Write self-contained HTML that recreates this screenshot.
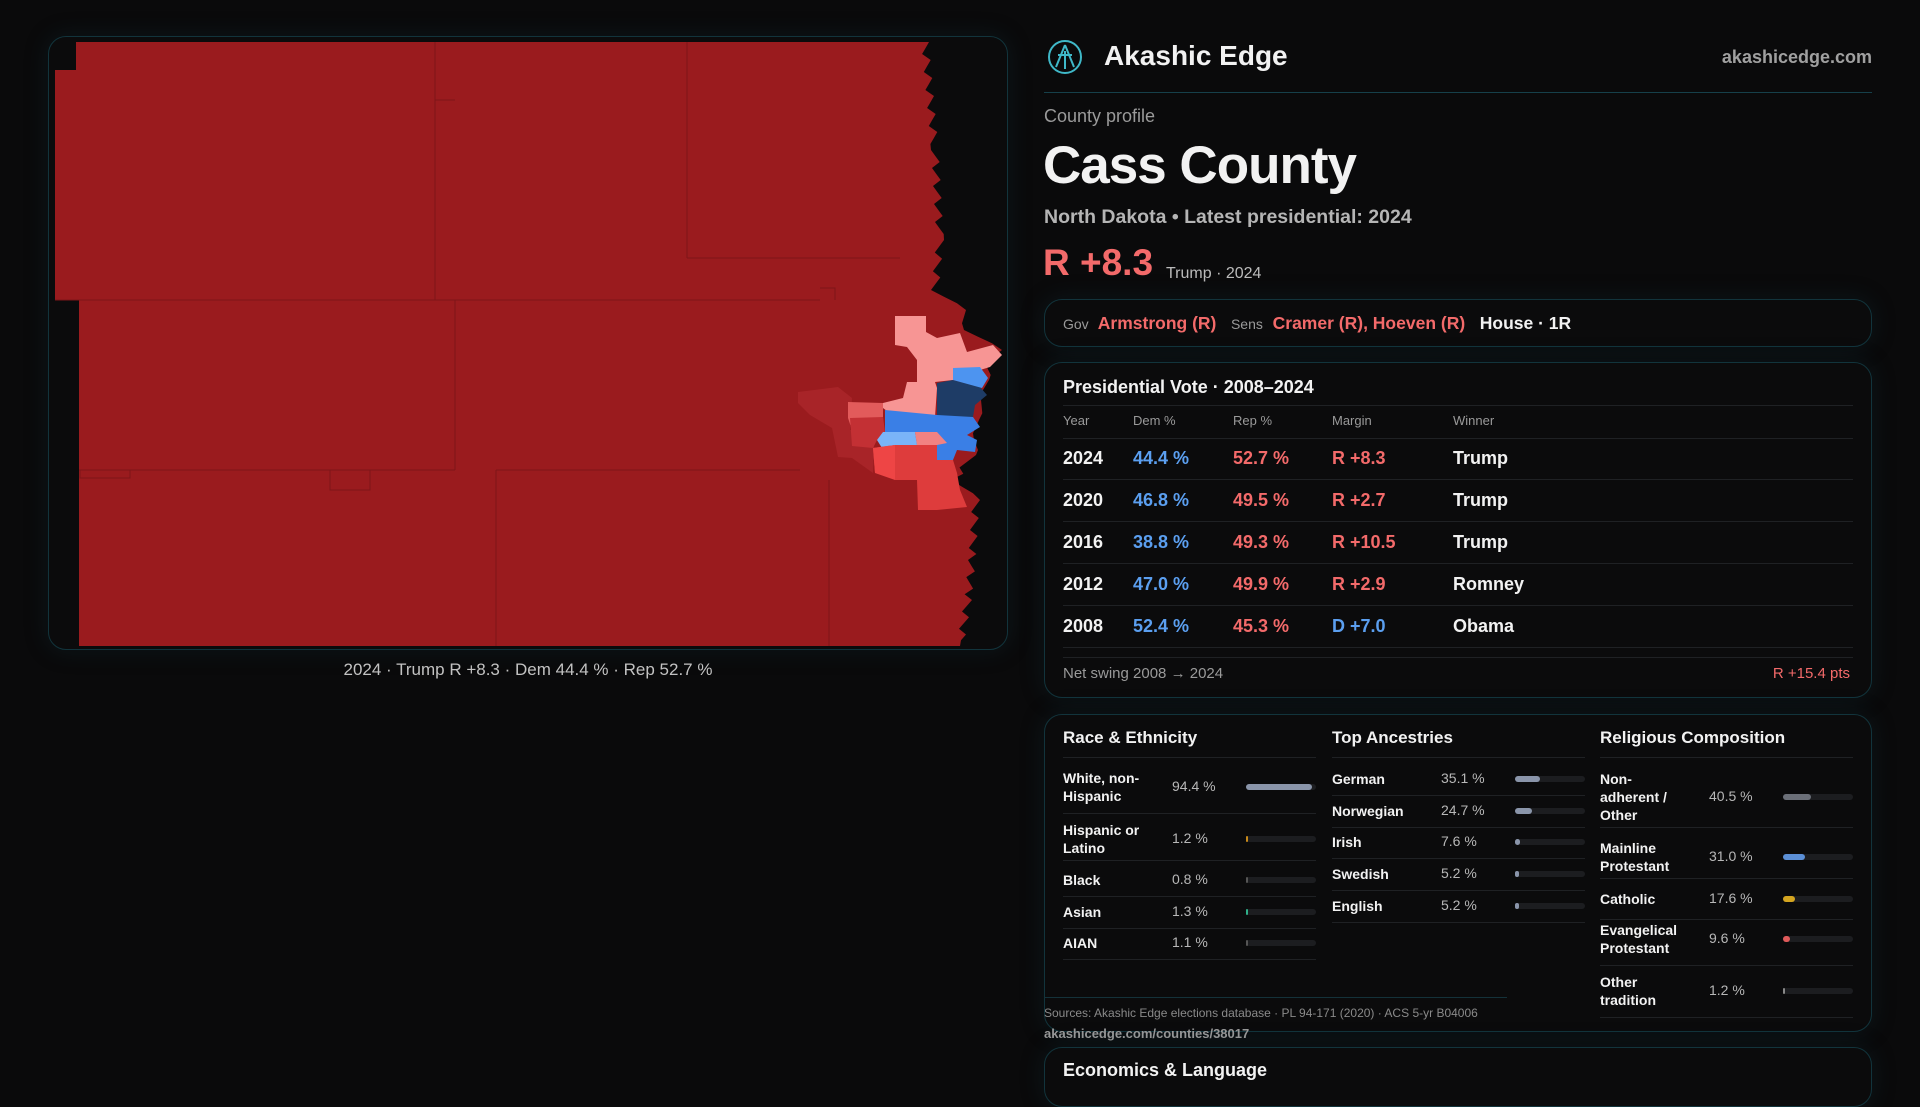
<!DOCTYPE html>
<html><head><meta charset="utf-8">
<style>
*{box-sizing:border-box;margin:0;padding:0}
body{width:1920px;height:1080px;background:#0a0a0b;font-family:"Liberation Sans",sans-serif;color:#f2f2f2;overflow:hidden;position:relative}
.abs{position:absolute;white-space:nowrap}
.panel{position:absolute;border:1px solid #12343c;border-radius:18px;background:#0b0b0c;box-shadow:0 0 24px rgba(20,60,70,.25)}
.red{color:#f36a6a}.blue{color:#5b9ff0}.dim{color:#9a9a9a}
.sep{position:absolute;height:1px;background:#1f2124}
.track{position:absolute;height:6px;width:70px;border-radius:3px;background:#1c1d20}
.fill{position:absolute;left:0;top:0;height:6px;border-radius:3px}
</style></head><body>

<div class="panel" style="left:48px;top:36px;width:960px;height:614px;background:#0b0b0c"></div>
<svg class="abs" style="left:0;top:0" width="1020" height="660" viewBox="0 0 1020 660">
  <path id="base" fill="#9a1b1e"/>
  <g stroke="#7e1418" stroke-width="1" fill="none">
    <path d="M435 42 V300 M455 300 V470 M496 470 V646 M687 42 V258 M687 258 H900 M829 480 V646 M55 300 H820 M79 470 H455 M496 470 H800 M820 288 L835 288 L835 300 M455 100 H435 M80 470 L80 478 L130 478 L130 470 M330 470 V490 H370 V470"/>
  </g>
  <polygon fill="#a82428" points="798,392 838,387 852,398 850,430 875,423 873,473 852,458 838,457 832,428 810,415 798,403"/>
  <polygon fill="#e25b5b" points="848,402 883,403 883,430 852,430 848,418"/>
  <polygon fill="#c33034" points="850,418 883,417 885,432 877,440 873,448 852,446"/>
  <polygon fill="#f79594" points="895,316 926,316 926,332 937,338 960,333 967,352 993,345 1002,355 990,367 980,370 953,368 953,380 935,382 937,388 935,417 895,417 883,408 883,403 903,398 907,382 917,382 917,360 907,347 895,345"/>
  <polygon fill="#1e3c66" points="937,383 953,380 980,387 987,395 975,405 973,417 937,417"/>
  <polygon fill="#4d94f0" points="953,368 980,367 988,378 982,388 953,380"/>
  <polygon fill="#3a7fe6" points="885,410 937,415 973,417 980,427 967,435 977,440 975,452 957,450 953,460 937,460 937,445 917,445 915,432 885,432"/>
  <polygon fill="#7ab4f8" points="883,432 915,432 917,445 895,445 882,448 877,440"/>
  <polygon fill="#f28282" points="915,432 937,432 947,443 937,445 917,445"/>
  <polygon fill="#de3c3c" points="873,448 895,445 937,445 937,460 953,460 957,473 960,490 967,507 937,510 918,510 917,480 895,480 895,473 875,473"/>
  <polygon fill="#ee4545" points="873,448 895,445 895,480 875,473"/>
</svg>
<div class="abs" style="left:0;width:1056px;top:660px;text-align:center;font-size:17px;color:#c2c2c2">2024 · Trump R +8.3 · Dem 44.4 % · Rep 52.7 %</div>

<!-- header -->
<svg class="abs" style="left:1047px;top:39px" width="36" height="36" viewBox="0 0 36 36"><circle cx="18" cy="18" r="16" fill="none" stroke="#3fb8c8" stroke-width="2"/><path d="M18 6 L9 28 M18 6 L27 28 M11 16 H25 M18 12 V30" stroke="#3fb8c8" stroke-width="2" fill="none"/></svg>
<div class="abs" style="left:1104px;top:40px;font-size:28px;font-weight:bold">Akashic Edge</div>
<div class="abs" style="right:48px;top:47px;font-size:18px;font-weight:bold;color:#a0a0a0">akashicedge.com</div>
<div class="abs" style="left:1044px;top:92px;width:828px;height:1px;background:#16404a"></div>
<div class="abs dim" style="left:1044px;top:106px;font-size:18px">County profile</div>
<div class="abs" style="left:1043px;top:135px;font-size:53px;font-weight:bold;letter-spacing:-1px">Cass County</div>
<div class="abs" style="left:1044px;top:206px;font-size:19.5px;color:#b5b5b5;font-weight:bold">North Dakota • Latest presidential: 2024</div>
<div class="abs red" style="left:1043px;top:242px;font-size:37px;font-weight:bold">R +8.3</div>
<div class="abs" style="left:1166px;top:265px;font-size:16px;color:#bbb">Trump · 2024</div>

<div class="panel" style="left:1044px;top:299px;width:828px;height:48px"></div>
<div class="abs" style="left:1063px;top:313px;font-size:17.5px;font-weight:bold">
<span class="dim" style="font-size:14px;font-weight:normal">Gov</span>&nbsp; <span class="red">Armstrong (R)</span> &nbsp;&nbsp;<span class="dim" style="font-size:14px;font-weight:normal">Sens</span>&nbsp; <span class="red">Cramer (R), Hoeven (R)</span> &nbsp;&nbsp;House · 1R</div>

<div class="panel" style="left:1044px;top:362px;width:828px;height:336px"></div>
<div class="abs" style="left:1063px;top:377px;font-size:18px;font-weight:bold">Presidential Vote · 2008–2024</div>
<div class="sep" style="left:1063px;top:405px;width:790px"></div>
<div id="ptable"></div>
<div class="sep" style="left:1063px;top:657px;width:790px"></div>
<div class="abs dim" style="left:1063px;top:665px;font-size:15px">Net swing 2008 → 2024</div>
<div class="abs red" style="right:70px;top:665px;font-size:15px">R +15.4 pts</div>

<div class="panel" style="left:1044px;top:714px;width:828px;height:318px"></div>
<div id="demo"></div>
<div class="sep" style="left:1044px;top:997px;width:463px;background:#14323a"></div>
<div class="abs" style="left:1044px;top:1006px;font-size:12px;color:#8a8a8a">Sources: Akashic Edge elections database · PL 94-171 (2020) · ACS 5-yr B04006</div>
<div class="abs" style="left:1044px;top:1026px;font-size:13px;color:#9a9a9a;font-weight:bold">akashicedge.com/counties/38017</div>
<div class="panel" style="left:1044px;top:1047px;width:828px;height:60px"></div>
<div class="abs" style="left:1063px;top:1060px;font-size:18px;font-weight:bold">Economics &amp; Language</div>

<script>
const years=['2024','2020','2016','2012','2008'];
const demPct=[44.4,46.8,38.8,47.0,52.4];
const repPct=[52.7,49.5,49.3,49.9,45.3];
const margins=['R +8.3','R +2.7','R +10.5','R +2.9','D +7.0'];
const winners=['Trump','Trump','Trump','Romney','Obama'];
const raceLabels=['White, non-Hispanic','Hispanic or Latino','Black','Asian','AIAN'];
const raceVals=[94.4,1.2,0.8,1.3,1.1];
const ancLabels=['German','Norwegian','Irish','Swedish','English'];
const ancVals=[35.1,24.7,7.6,5.2,5.2];
const relLabels=['Non-adherent / Other','Mainline Protestant','Catholic','Evangelical Protestant','Other tradition'];
const relVals=[40.5,31.0,17.6,9.6,1.2];

(function(){
  let pts=[[76,42]];
  const edge=[[42,925],[150,935],[240,940],[290,935],[310,962],[330,968],[350,998],[365,990],[380,985],[400,985],[420,975],[440,978],[455,972],[480,955],[500,976],[560,972],[600,968],[646,960]];
  for(let i=0;i<edge.length-1;i++){
    const [y0,x0]=edge[i],[y1,x1]=edge[i+1];
    const n=Math.max(1,Math.round((y1-y0)/6));
    for(let k=0;k<n;k++){const t=k/n;const y=y0+(y1-y0)*t;const x=x0+(x1-x0)*t+((k%3)-1)*4*((i%2)?1:-1);pts.push([x,y]);}
  }
  pts.push([960,646],[79,646],[79,300],[55,300],[55,70],[76,70]);
  document.getElementById('base').setAttribute('d','M'+pts.map(p=>p[0].toFixed(1)+' '+p[1].toFixed(1)).join(' L')+' Z');
})();

function mk(parent,cls,style,text){const d=document.createElement('div');d.className=cls;d.style.cssText=style;if(text!==undefined)d.textContent=text;parent.appendChild(d);return d;}
const body=document.body;
const cols=[1063,1133,1233,1332,1453];
['Year','Dem %','Rep %','Margin','Winner'].forEach((h,i)=>{const e=mk(body,'abs dim','left:'+cols[i]+'px;top:413px;font-size:13px',h);

});
mk(body,'sep','left:1063px;top:438px;width:790px');
years.forEach((y,r)=>{
  const top=448+r*42;
  const mt=margins[r];
  const isR=mt.charAt(0)==='R';
  const vals=[y,demPct[r].toFixed(1)+' %',repPct[r].toFixed(1)+' %',mt,winners[r]];
  const cl=['','blue','red',isR?'red':'blue',''];
  vals.forEach((v,i)=>{const e=mk(body,'abs '+cl[i],'left:'+cols[i]+'px;top:'+top+'px;font-size:18px;font-weight:bold',v);
  
  });
  const s=mk(body,'sep','left:1063px;top:'+(top+31)+'px;width:790px');
  
  
});
function section(x,title,labels,vals,rowTops,colors,names){
  const t=mk(body,'abs','left:'+x+'px;top:728px;font-size:17px;font-weight:bold',title);
  
  
  mk(body,'sep','left:'+x+'px;top:757px;width:253px');
  labels.forEach((l,i)=>{
    const y=rowTops[i];
    const lab=mk(body,'abs','left:'+x+'px;width:85px;white-space:normal;font-size:14px;font-weight:bold;line-height:18px;height:54px;display:flex;align-items:center',l);
    lab.style.top=(y-27)+'px';
    
    
    const v=mk(body,'abs','left:'+(x+109)+'px;top:'+(y-9)+'px;font-size:14px;color:#b8b8b8',vals[i].toFixed(1)+' %');
    
    
    const tr=mk(body,'track','left:'+(x+183)+'px;top:'+(y-3)+'px');
    
    
    const f=mk(tr,'fill','width:'+Math.max(1.5,vals[i]/100*70)+'px;background:'+colors[i]);
    
    
    const bottom=(i<rowTops.length-1)?(y+rowTops[i+1])/2:y+(y-rowTops[i-1])/2;
    mk(body,'sep','left:'+x+'px;top:'+Math.round(bottom)+'px;width:253px');
  });
}
section(1063,'Race & Ethnicity',raceLabels,raceVals,[787,839,880,912,943],['#8a95aa','#c88a1a','#555','#2fb08a','#555'],'race');
section(1332,'Top Ancestries',ancLabels,ancVals,[779,811,842,874,906],['#8a95aa','#8a95aa','#8a95aa','#8a95aa','#8a95aa'],'ancestry');
section(1600,'Religious Composition',relLabels,relVals,[797,857,899,939,991],['#6b6f78','#5b8fd6','#d4a520','#e05a5a','#888'],'religion');
</script>
</body></html>
